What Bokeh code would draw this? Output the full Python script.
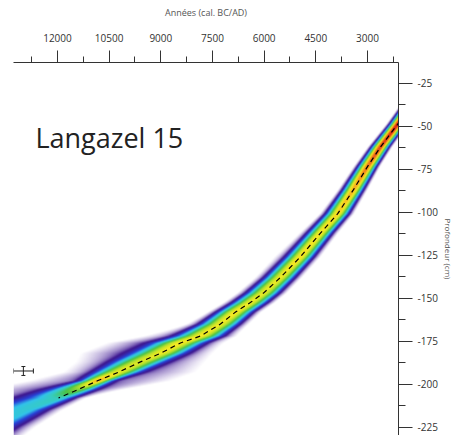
import numpy as np
from bokeh.plotting import figure
from bokeh.models import (Range1d, LinearAxis, FixedTicker, Label, Whisker,
                          TeeHead, ColumnDataSource)
from bokeh.embed import file_html
from bokeh.resources import INLINE

# ---------------- data ----------------
# age-depth model (depth in cm, ages in cal. years)
depth_cm   = [-30, -49, -62, -73.5, -87, -101, -112, -126, -138, -147, -152.5, -158,
              -165, -172, -176, -182, -187, -193, -198, -203, -208, -215, -225, -236]
age_mid    = [1460, 2130, 2620, 3000, 3410, 3870, 4360, 4950, 5530, 6020, 6400, 6830,
              7270, 7850, 8430, 9010, 9590, 10230, 10840, 11390, 11970, 12930, 13940, 14820]
sd_old     = [125, 130, 145, 160, 180, 200, 215, 235, 260, 290, 300, 310,
              340, 390, 420, 440, 430, 380, 260, 480, 700, 880, 980, 1080]
sd_young   = [125, 125, 135, 145, 165, 185, 195, 210, 235, 260, 280, 290,
              310, 350, 370, 380, 380, 340, 240, 280, 300, 430, 540, 600]
peak       = [1.0, 0.95, 0.9, 0.84, 0.76, 0.68, 0.63, 0.61, 0.60, 0.60, 0.62, 0.64,
              0.60, 0.55, 0.53, 0.51, 0.50, 0.54, 0.66, 0.40, 0.26, 0.22, 0.20, 0.19]
tail_amp   = [0.0, 0.0, 0.0, 0.0, 0.0, 0.03, 0.05, 0.08, 0.06, 0.05, 0.04, 0.04,
              0.06, 0.12, 0.15, 0.15, 0.13, 0.11, 0.10, 0.12, 0.10, 0.10, 0.10, 0.10]
tail_old   = [200, 200, 200, 220, 250, 350, 450, 520, 500, 480, 480, 500,
              700, 1000, 1200, 1300, 1100, 1000, 1300, 1700, 1900, 2000, 2100, 2200]
tail_young = [200, 200, 200, 220, 250, 300, 320, 350, 380, 400, 420, 450,
              500, 600, 700, 850, 1100, 1400, 1400, 800, 480, 620, 720, 820]
mean_line_min_depth = -208

# dated levels (calibrated ranges)
date_depth = [-50.5, -157.5, -197.5]
date_old   = [2300, 7210, 11180]
date_young = [1920, 6340, 10460]

# error scale cross
err_age = [12990]
err_depth = [-192.3]
err_age_sd = [290]
err_depth_sd = [2.6]

year_ticks = [12000, 10500, 9000, 7500, 6000, 4500, 3000]
year_labels = ["12000", "10500", "9000", "7500", "6000", "4500", "3000"]
year_minor = [12750, 11250, 9750, 8250, 6750, 5250, 3750, 2250]
depth_ticks = [-25, -50, -75, -100, -125, -150, -175, -200, -225]
depth_labels = ["-25", "-50", "-75", "-100", "-125", "-150", "-175", "-200", "-225"]
depth_minor = [-37.5, -62.5, -87.5, -112.5, -137.5, -162.5, -187.5, -212.5]

x_old, x_young = 13277, 2100
d_low, d_high = -229.8, -12.96

title_text = "Langazel 15"
x_title = "Années (cal. BC/AD)"
y_title = "Profondeur (cm)"

# ---------------- figure ----------------
p = figure(width=456, height=435,
           x_range=Range1d(x_old, x_young), y_range=Range1d(d_low, d_high),
           output_backend="svg", toolbar_location=None,
           x_axis_location=None, y_axis_location=None,
           min_border_left=13, min_border_right=58, min_border_top=62, min_border_bottom=0)
p.outline_line_color = None
p.xgrid.visible = False
p.ygrid.visible = False
p.background_fill_color = "white"
p.border_fill_color = "white"

# ---------------- density image ----------------
nx, ny = 385, 373
cw = (x_old - x_young) / nx
ch = (d_high - d_low) / ny
ages = x_young + (np.arange(nx) + 0.5) * cw
deps = d_low + (np.arange(ny) + 0.5) * ch

dep_arr = np.array(depth_cm, float)
order = np.argsort(dep_arr)
def along(a):
    return np.interp(deps, dep_arr[order], np.array(a, float)[order])

c = along(age_mid)[:, None]
so = along(sd_old)[:, None]
sy = along(sd_young)[:, None]
pk = along(peak)[:, None]
ta = along(tail_amp)[:, None]
to = along(tail_old)[:, None]
ty = along(tail_young)[:, None]

dx = ages[None, :] - c
sd = np.where(dx > 0, so, sy)
tsd = np.where(dx > 0, to, ty)
v = pk * np.exp(-0.5 * (dx / sd) ** 2) + ta * np.exp(-0.5 * (dx / tsd) ** 2)
v = np.clip(v, 0, 1)

stops = [0.0, 0.04, 0.13, 0.21, 0.29, 0.36, 0.45, 0.57, 0.67, 0.80, 0.92, 1.0]
reds  = [110,  95,  62,  40,  50,  55,  75, 180, 245, 245, 225, 215]
grns  = [70,   60,  25,  65, 195, 205, 195, 225, 235, 150,  45,  30]
blus  = [175, 170, 145, 215, 235, 190,  70,  45,  35,  30,  20,  20]
R = np.interp(v, stops, reds)
G = np.interp(v, stops, grns)
B = np.interp(v, stops, blus)
A = np.clip((v - 0.03) / 0.09, 0, 1) * 255

img = np.zeros((ny, nx), dtype=np.uint32)
view = img.view(dtype=np.uint8).reshape((ny, nx, 4))
view[:, :, 0] = R.astype(np.uint8)
view[:, :, 1] = G.astype(np.uint8)
view[:, :, 2] = B.astype(np.uint8)
view[:, :, 3] = A.astype(np.uint8)

p.image_rgba(image=[img], x=x_young, y=d_low, dw=x_old - x_young, dh=d_high - d_low)

# ---------------- mean line ----------------
mask = dep_arr >= mean_line_min_depth
p.line(x=list(np.array(age_mid)[mask]), y=list(dep_arr[mask]),
       line_color="black", line_width=1.2, line_dash="5 4")

# ---------------- dated levels ----------------
dsrc = ColumnDataSource(dict(base=date_depth, lower=date_young, upper=date_old))
p.add_layout(Whisker(source=dsrc, base="base", lower="lower", upper="upper",
                     dimension="width", line_color="black", line_width=1,
                     lower_head=TeeHead(size=4, line_color="black", line_width=1),
                     upper_head=TeeHead(size=4, line_color="black", line_width=1)))

# ---------------- error cross ----------------
ex = np.array(err_age, float); ey = np.array(err_depth, float)
esx = np.array(err_age_sd, float); esy = np.array(err_depth_sd, float)
hsrc = ColumnDataSource(dict(base=list(ey), lower=list(ex - esx), upper=list(ex + esx)))
p.add_layout(Whisker(source=hsrc, base="base", lower="lower", upper="upper",
                     dimension="width", line_color="#222", line_width=1,
                     lower_head=TeeHead(size=5, line_color="#222", line_width=1),
                     upper_head=TeeHead(size=5, line_color="#222", line_width=1)))
vsrc = ColumnDataSource(dict(base=list(ex), lower=list(ey - esy), upper=list(ey + esy)))
p.add_layout(Whisker(source=vsrc, base="base", lower="lower", upper="upper",
                     dimension="height", line_color="#222", line_width=1,
                     lower_head=TeeHead(size=4, line_color="#222", line_width=1),
                     upper_head=TeeHead(size=4, line_color="#222", line_width=1)))

# ---------------- title ----------------
p.add_layout(Label(x=12640, y=-56.4, text=title_text, text_font="Open Sans",
                   text_font_size="27px", text_color="#222", text_baseline="alphabetic",
                   text_align="left"))

# ---------------- axes ----------------
xa = LinearAxis(ticker=FixedTicker(ticks=year_ticks, minor_ticks=year_minor),
                major_label_overrides=dict(zip(year_ticks, year_labels)),
                axis_label=x_title)
xa.axis_line_color = "#333"
xa.major_tick_line_color = "#333"
xa.minor_tick_line_color = "#333"
xa.major_tick_in = 0
xa.major_tick_out = 12
xa.minor_tick_in = 0
xa.minor_tick_out = 6
xa.major_label_standoff = 9
xa.major_label_text_font = "Open Sans"
xa.major_label_text_font_size = "10px"
xa.major_label_text_color = "#333"
xa.axis_label_text_font = "Open Sans"
xa.axis_label_text_font_size = "9px"
xa.axis_label_text_font_style = "normal"
xa.axis_label_text_color = "#555"
xa.axis_label_standoff = 12
p.add_layout(xa, "above")

ya = LinearAxis(ticker=FixedTicker(ticks=depth_ticks, minor_ticks=depth_minor),
                major_label_overrides=dict(zip(depth_ticks, depth_labels)),
                axis_label=y_title)
ya.axis_line_color = "#333"
ya.major_tick_line_color = "#333"
ya.minor_tick_line_color = "#333"
ya.major_tick_in = 0
ya.major_tick_out = 14
ya.minor_tick_in = 0
ya.minor_tick_out = 7
ya.major_label_standoff = 5
ya.major_label_text_font = "Open Sans"
ya.major_label_text_font_size = "10px"
ya.major_label_text_color = "#333"
ya.axis_label_text_font = "Open Sans"
ya.axis_label_text_font_size = "8px"
ya.axis_label_text_font_style = "normal"
ya.axis_label_text_color = "#555"
ya.axis_label_standoff = 2
p.add_layout(ya, "right")

open("out.html", "w").write(file_html(p, INLINE))
